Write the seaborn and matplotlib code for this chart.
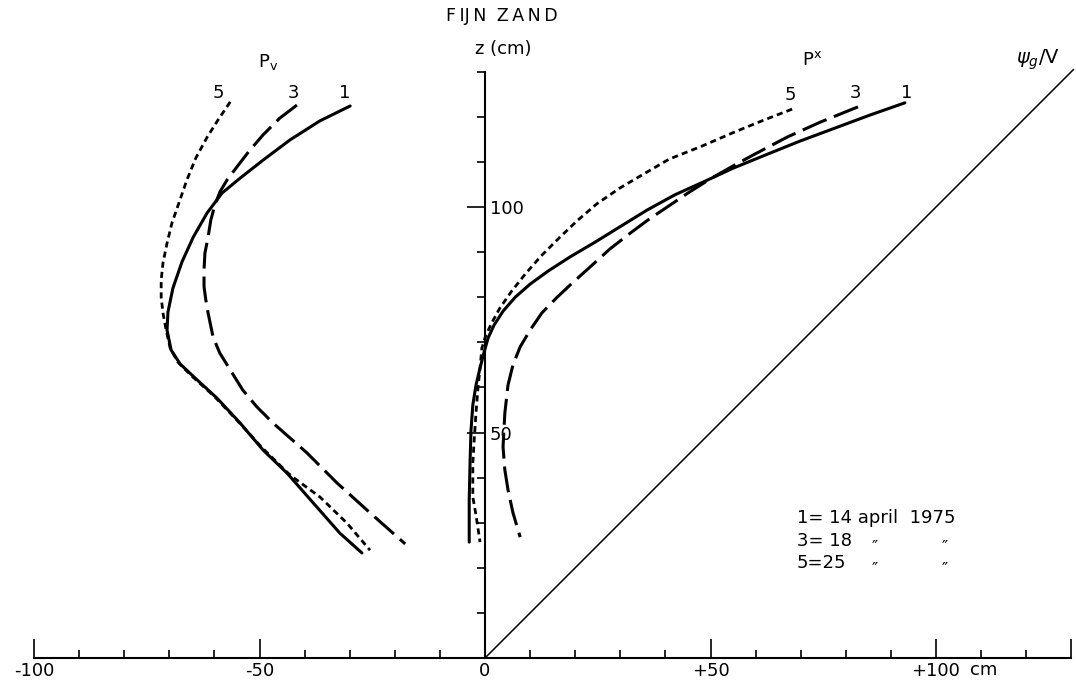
import numpy as np
import pandas as pd
import matplotlib
matplotlib.use("Agg")
import matplotlib.pyplot as plt
import seaborn as sns

# Vertical profiles, depth z (cm) against pressure head (cm)
# P_v profiles (left group)
pv1_x = [-29.9, -36.6, -43.2, -49.2, -54.3, -58.3, -61.6, -64.7, -67.2, -69.2, -70.3,
         -70.5, -69.6, -67.6, -64.3, -59.4, -54.3, -49.2, -43.9, -38.1, -32.2, -27.3]
pv1_z = [122.4, 119.1, 114.9, 110.4, 106.4, 103.1, 98.7, 93.3, 87.8, 82.0, 76.7,
         72.7, 68.3, 65.2, 62.1, 57.6, 52.1, 46.1, 41.0, 34.4, 27.7, 23.3]
pv3_x = [-41.7, -45.5, -49.2, -52.3, -55.0, -57.2, -58.8, -59.9, -60.8, -61.4, -62.1,
         -62.3, -62.3, -61.9, -61.4, -60.3, -58.8, -56.5, -53.7, -50.6, -47.0, -39.5,
         -32.8, -25.5, -17.7]
pv3_z = [122.6, 119.7, 116.0, 112.4, 108.9, 106.0, 103.3, 100.4, 97.1, 93.3, 89.8,
         86.0, 82.3, 79.4, 76.5, 71.2, 67.6, 63.9, 59.4, 55.7, 52.1, 45.5,
         38.8, 32.2, 25.3]
pv5_x = [-56.5, -59.2, -61.6, -64.1, -66.1, -67.8, -69.4, -70.5, -71.4, -71.8, -71.8,
         -71.4, -70.7, -69.8, -68.1, -65.0, -60.1, -54.8, -49.4, -43.9, -42.6, -36.6,
         -30.6, -25.5]
pv5_z = [123.3, 119.3, 115.5, 110.9, 106.0, 101.1, 96.5, 92.0, 87.6, 83.8, 80.0,
         76.5, 72.7, 68.7, 65.6, 62.5, 58.1, 52.5, 46.6, 41.2, 40.1, 35.7,
         29.9, 23.9]

# P^x profiles (right group)
px1_x = [93.1, 85.4, 77.6, 69.8, 62.1, 55.0, 48.3, 42.1, 35.9, 29.9, 24.4, 18.8, 14.0,
         10.0, 6.7, 4.0, 2.0, 0.7, -0.2, -1.1, -2.0, -2.7, -3.1, -3.3, -3.5, -3.5]
px1_z = [123.1, 120.4, 117.5, 114.6, 111.5, 108.6, 105.5, 102.7, 99.3, 95.6, 92.2, 88.9, 85.8,
         82.9, 80.0, 76.9, 73.8, 71.0, 67.8, 64.3, 60.5, 56.1, 50.6, 43.9, 35.0, 25.7]
px3_x = [82.7, 74.3, 67.0, 59.4, 55.0, 49.9, 45.0, 40.4, 36.1, 32.2, 27.7, 23.3, 19.3,
         16.0, 12.6, 10.0, 7.8, 6.2, 5.1, 4.4, 4.0, 4.4, 5.1, 6.2, 7.8]
px3_z = [122.2, 118.8, 115.5, 111.5, 109.1, 106.2, 103.1, 100.0, 97.1, 94.2, 90.7, 86.7, 83.1,
         80.0, 76.5, 72.7, 69.0, 65.0, 60.5, 54.3, 46.8, 41.7, 37.3, 32.2, 26.8]
px5_x = [68.1, 61.4, 54.8, 48.1, 40.8, 35.5, 29.9, 24.8, 20.6, 16.6, 12.4, 8.9, 5.8,
         3.3, 1.6, 0.2, -0.7, -1.1, -1.6, -2.0, -2.4, -2.7, -2.7, -2.0, -1.1]
px5_z = [121.7, 119.1, 116.4, 113.5, 110.6, 107.5, 104.2, 100.7, 97.1, 93.3, 89.1, 85.1, 81.2,
         77.6, 74.5, 71.6, 68.7, 64.3, 59.4, 54.3, 48.3, 43.2, 35.7, 31.7, 25.7]

# Reference line psi_g / V
ref_x = [0, 130.5]
ref_z = [0, 130.5]

x_major = [-100, -50, 0, 50, 100]
x_major_labels = ["-100", "-50", "0", "+50", "+100"]
y_labels = [50, 100]

sns.set_style("white")
plt.rcParams["font.family"] = ["DejaVu Sans"]
plt.rcParams["text.color"] = "black"

fig = plt.figure(figsize=(10.76, 6.83), dpi=100)
ax = fig.add_axes([0, 0, 1, 1])

solid = dict(color="black", lw=2.2, linestyle="-")
long_dash = dict(color="black", lw=2.2, linestyle=(0, (8.5, 2.6)))
short_dash = dict(color="black", lw=2.0, linestyle=(0, (2.2, 1.5)))

curves = [
    (pv1_x, pv1_z, solid), (pv3_x, pv3_z, long_dash), (pv5_x, pv5_z, short_dash),
    (px1_x, px1_z, solid), (px3_x, px3_z, long_dash), (px5_x, px5_z, short_dash),
]
for cx, cz, style in curves:
    df = pd.DataFrame({"x": cx, "z": cz})
    sns.lineplot(data=df, x="x", y="z", sort=False, estimator=None, ax=ax,
                 solid_joinstyle="round", dash_joinstyle="round", **style)

sns.lineplot(x=ref_x, y=ref_z, sort=False, estimator=None, ax=ax, color="black", lw=1.1)

px_per_unit = 4.51
ax.set_xlim(-485 / px_per_unit, (1076 - 485) / px_per_unit)
ax.set_ylim((658 - 683) / px_per_unit, 658 / px_per_unit)
ax.set_xlabel("")
ax.set_ylabel("")

# Spines crossing at the origin
ax.spines["top"].set_visible(False)
ax.spines["bottom"].set_position(("data", 0))
ax.spines["left"].set_position(("data", 0))
ax.spines["right"].set_position(("data", 0))
ax.spines["right"].set_visible(False)
ax.spines["bottom"].set_bounds(-100, 130)
ax.spines["left"].set_bounds(0, 130)
for s in ["bottom", "left"]:
    ax.spines[s].set_linewidth(1.5)
    ax.spines[s].set_color("black")

# x ticks pointing up from the axis
ax.set_xticks(x_major + [130])
ax.set_xticklabels(x_major_labels + [""])
ax.set_xticks([v for v in range(-90, 130, 10) if v % 50 != 0], minor=True)
ax.tick_params(axis="x", which="major", direction="in", length=14, width=1.2,
               bottom=True, top=False, labelsize=13, pad=3, colors="black")
ax.tick_params(axis="x", which="minor", direction="in", length=6, width=1.2,
               bottom=True, top=False, colors="black")

# y ticks pointing left, labels on the right of the axis
ax.set_yticks(y_labels)
ax.set_yticklabels([str(v) for v in y_labels])
ax.set_yticks([v for v in range(10, 135, 10) if v % 50 != 0], minor=True)
ax.tick_params(axis="y", which="major", direction="out", length=13, width=1.2,
               left=True, right=False, labelleft=False, labelright=True,
               labelsize=13, pad=-9.5, colors="black")
ax.tick_params(axis="y", which="minor", direction="out", length=5.5, width=1.2,
               left=True, right=False, colors="black")


def fig_text(px, py, s, **kw):
    fig.text(px / 1076, 1 - py / 683, s, color="black", **kw)


fig_text(970, 670, "cm", fontsize=13, ha="left", va="center")
fig_text(502, 16, "F Ĳ N   Z A N D".replace(" ", "\u2009"), fontsize=12.5,
         ha="center", va="center")
fig_text(503, 49, "z (cm)", fontsize=13, ha="center", va="center")
fig_text(268, 62, r"P$_\mathregular{v}$", fontsize=13, ha="center", va="center")
fig_text(812, 60, r"P$^\mathregular{x}$", fontsize=13, ha="center", va="center")
fig_text(1038, 60, r"$\psi_g$/V", fontsize=14, ha="center", va="center")

for px, py, s in [(218, 93, "5"), (293, 93, "3"), (345, 93, "1"),
                  (790, 95, "5"), (855, 93, "3"), (907, 93, "1")]:
    fig_text(px, py, s, fontsize=13, ha="center", va="center")

fig_text(797, 518, "1= 14 april  1975", fontsize=13, ha="left", va="center")
fig_text(797, 541, "3= 18", fontsize=13, ha="left", va="center")
fig_text(797, 563, "5=25", fontsize=13, ha="left", va="center")
for px, py in [(875, 548), (945, 548), (875, 570), (945, 570)]:
    fig_text(px, py, "\u2033", fontsize=12, ha="center", va="center")

fig.savefig("out.png", dpi=100, facecolor="white")
